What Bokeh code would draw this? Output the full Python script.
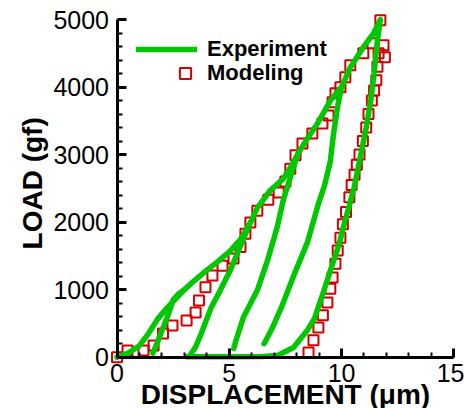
import math
from bokeh.plotting import figure
from bokeh.models import Range1d, Legend, LegendItem, FixedTicker, Label
from bokeh.embed import file_html
from bokeh.resources import INLINE

# ---- data (displacement in um, load in gf) ----
cycle1_disp = [0.0, 0.5, 1.0, 1.4, 1.8, 2.2, 2.6, 3.0, 2.75, 2.5, 2.25, 1.95, 1.75, 1.6]
cycle1_load = [0, 60, 170, 350, 560, 720, 860, 1000, 940, 850, 600, 350, 180, 60]

cycle2_disp = [3.0, 3.5, 4.0, 4.5, 5.0, 5.5, 5.95, 5.5, 5.05, 4.6, 4.2, 3.75, 3.5, 3.3]
cycle2_load = [1000, 1150, 1290, 1420, 1560, 1740, 2000, 1650, 1290, 990, 740, 350, 150, 50]

cycle3_disp = [5.95, 6.25, 6.8, 7.4, 7.8, 8.05, 7.72, 7.4, 7.13, 6.7, 6.25, 5.63, 5.3, 5.2]
cycle3_load = [2000, 2210, 2460, 2640, 2850, 3010, 2660, 2320, 1920, 1430, 990, 590, 250, 130]

cycle4_disp = [8.05, 8.5, 8.93, 9.5, 10.0, 9.82, 9.64, 9.5, 9.25, 8.95, 8.48, 7.86, 7.35, 6.9, 6.55]
cycle4_load = [3010, 3250, 3460, 3800, 4000, 3700, 3300, 2900, 2550, 2250, 1700, 1200, 760, 420, 200]

cycle5_disp = [10.0, 10.39, 10.97, 11.42, 11.73, 11.6, 11.45, 11.3, 11.1, 10.8, 10.55, 10.35,
               10.1, 9.9, 9.55, 9.19, 8.8, 8.48, 7.86, 7.15, 6.5, 5.0, 3.1]
cycle5_load = [4000, 4290, 4590, 4790, 5000, 4700, 4200, 3800, 3400, 2900, 2500, 2250,
               1950, 1680, 1330, 960, 580, 400, 144, 25, 10, 8, 8]

model_disp = [0.0, 0.47, 1.18, 1.63, 2.05, 2.47, 3.1, 3.5, 3.65, 3.94, 4.25, 4.7, 5.19, 5.5,
              5.72, 5.94, 6.25, 6.74, 7.2, 7.5, 7.72, 7.95, 8.26, 8.7, 9.15, 9.42, 9.6, 9.73,
              9.95, 10.17, 10.39, 10.97, 11.38, 11.73, 11.87, 11.93, 11.65, 11.6, 11.55, 11.45,
              11.35, 11.2, 11.1, 10.95, 10.8, 10.68, 10.58, 10.45, 10.35, 10.2, 10.06, 9.95,
              9.83, 9.73, 9.6, 9.5, 9.37, 9.17, 8.97, 8.75, 8.53]
model_load = [0, 100, 100, 173, 350, 470, 545, 660, 840, 1035, 1210, 1355, 1460, 1630,
              1828, 1995, 2170, 2330, 2440, 2600, 2790, 2990, 3165, 3313, 3461, 3580, 3775, 3908,
              3997, 4145, 4322, 4500, 4650, 4990, 4620, 4440, 4500, 4300, 4100, 3950,
              3800, 3600, 3400, 3200, 3000, 2850, 2700, 2550, 2370, 2150, 1970, 1770,
              1580, 1385, 1180, 1015, 810, 620, 440, 250, 70]

x_major = [0, 5, 10, 15]
x_minor = list(range(0, 16))
y_major = [0, 1000, 2000, 3000, 4000, 5000]
y_minor = list(range(0, 5001, 200))

x_title = "DISPLACEMENT (\u03bcm)"
y_title = "LOAD (gf)"

GREEN = "#00c800"
RED = "#d40000"
FONT = "Liberation Sans"

# ---- layout: the frame fills the canvas, the axes sit at 0 and are bounded ----
W, H = 464, 408
X_AX = (0, 15)
Y_AX = (0, 5000)
AX_LEFT, AX_RIGHT, AX_TOP, AX_BOTTOM = 116.5, 453.3, 19.0, 356.7   # pixel box of the axes
xu = (X_AX[1] - X_AX[0]) / (AX_RIGHT - AX_LEFT)
yu = (Y_AX[1] - Y_AX[0]) / (AX_BOTTOM - AX_TOP)
x_view = (X_AX[0] - AX_LEFT * xu, X_AX[1] + (W - AX_RIGHT) * xu)
y_view = (Y_AX[0] - (H - AX_BOTTOM) * yu, Y_AX[1] + AX_TOP * yu)

p = figure(width=W, height=H, output_backend="svg", toolbar_location=None,
           x_range=Range1d(*x_view), y_range=Range1d(*y_view),
           min_border=0, min_border_left=0, min_border_right=0,
           min_border_top=0, min_border_bottom=0)
p.outline_line_color = None
p.grid.visible = False

sq = p.scatter(model_disp, model_load, marker="square", size=10, line_color=RED,
               line_width=2, fill_color=None)

ml = p.multi_line(xs=[cycle1_disp, cycle2_disp, cycle3_disp, cycle4_disp, cycle5_disp],
                  ys=[cycle1_load, cycle2_load, cycle3_load, cycle4_load, cycle5_load],
                  line_color=GREEN, line_width=5.5, line_join="round", line_cap="round")

p.xaxis.ticker = FixedTicker(ticks=x_major, minor_ticks=x_minor)
p.yaxis.ticker = FixedTicker(ticks=y_major, minor_ticks=y_minor)
p.xaxis.axis_label = x_title
p.xaxis.fixed_location = Y_AX[0]
p.yaxis.fixed_location = X_AX[0]
p.xaxis.bounds = X_AX
p.yaxis.bounds = Y_AX

for ax in (p.xaxis[0], p.yaxis[0]):
    ax.axis_line_width = 3
    ax.axis_line_color = "black"
    ax.major_tick_in = 9
    ax.major_tick_out = 0
    ax.minor_tick_in = 5
    ax.minor_tick_out = 0
    ax.major_tick_line_width = 3
    ax.minor_tick_line_width = 2
    ax.major_label_text_font = FONT
    ax.major_label_text_font_size = "25px"
    ax.major_label_text_color = "black"
    ax.axis_label_text_font = FONT
    ax.axis_label_text_font_size = "28px"
    ax.axis_label_text_font_style = "bold"
    ax.axis_label_text_color = "black"

p.xaxis.major_label_standoff = 7
p.xaxis.axis_label_standoff = -7
p.yaxis.major_label_standoff = 8

# y title as a rotated label left of the tick labels
p.add_layout(Label(x=X_AX[0], y=(Y_AX[0] + Y_AX[1]) / 2, x_offset=-85, y_offset=5,
                   text=y_title, angle=math.pi / 2, text_align="center",
                   text_baseline="middle", text_font=FONT, text_font_size="28px",
                   text_font_style="bold", text_color="black"))

leg_common = dict(padding=0, margin=0, spacing=0, border_line_color=None,
                  background_fill_alpha=0, label_text_font=FONT, label_text_font_size="22px",
                  label_text_font_style="bold", label_text_color="black")
leg1 = Legend(items=[LegendItem(label="Experiment", renderers=[ml])],
              location=(136, 346.3), glyph_width=61, glyph_height=20, label_standoff=10,
              label_height=20, **leg_common)
leg2 = Legend(items=[LegendItem(label="Modeling", renderers=[sq])],
              location=(171, 320.8), glyph_width=28, glyph_height=28, label_standoff=8,
              label_height=28, **leg_common)
p.add_layout(leg1)
p.add_layout(leg2)

open("out.html", "w").write(file_html(p, INLINE))
